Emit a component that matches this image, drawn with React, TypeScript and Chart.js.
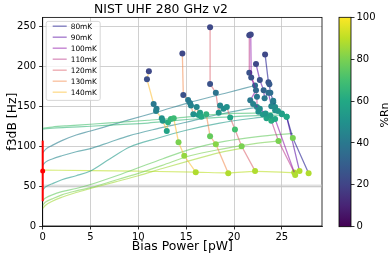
import React, { useEffect, useRef } from 'react';
import { Chart, registerables } from 'chart.js';

Chart.register(...registerables);

const FONT = 'DejaVu Sans';

// ---- axes ----
const X_MIN = 0;
const X_MAX = 29.2;
const X_STEP = 5;
const Y_MIN = 0;
const Y_MAX = 261.4;
const Y_STEP = 50;
const RN_MIN = 0;
const RN_MAX = 100;
const RN_STEP = 20;

const TITLE = 'NIST UHF 280 GHz v2';
const X_LABEL = 'Bias Power [pW]';
const Y_LABEL = 'f3dB [Hz]';
const CB_LABEL = '%Rn';

// ---- temperature sweeps: bias power [pW], f3dB [Hz], %Rn ----
const TEMP_LABELS = ['80mK', '90mK', '100mK', '110mK', '120mK', '130mK', '140mK'];

const P_80 = [23.25, 23.6, 23.7, 23.8, 24.1, 24.3, 24.6, 25.0, 25.5, 26.15, 27.8];
const F_80 = [215, 180, 177.5, 167, 157, 149, 144, 140, 137, 110.4, 66];
const RN_80 = [22, 25, 28, 36, 42, 48, 52, 56, 60, 80, 88];

const P_90 = [22.3, 22.7, 23.1, 23.2, 23.6, 23.9, 24.1, 24.3, 25.0, 25.5, 26.85];
const F_90 = [203, 183, 170, 160, 167, 150, 155, 145, 141, 137, 68.8];
const RN_90 = [22, 25, 32, 40, 36, 46, 44, 50, 56, 60, 88];

const P_100 = [21.75, 21.8, 22.3, 21.7, 22.0, 22.7, 23.3, 23.8, 24.3, 26.4];
const F_100 = [240, 186, 170, 157.5, 153, 147, 141, 138, 134, 64];
const RN_100 = [22, 25, 34, 40, 44, 48, 52, 56, 60, 88];

const P_110 = [21.6, 21.6, 22.2, 22.4, 22.4, 22.55, 23.0, 23.4, 23.9, 24.65, 26.3];
const F_110 = [239, 192, 176, 162, 149, 143, 140, 135, 132, 106.6, 67];
const RN_110 = [22, 25, 36, 40, 46, 50, 54, 58, 62, 80, 88];

const P_120 = [17.5, 17.5, 18.1, 18.4, 18.55, 18.9, 19.25, 19.6, 20.1, 20.8, 22.2];
const F_120 = [249, 178, 167, 142, 151, 147, 149, 136, 121, 100, 69];
const RN_120 = [22, 25, 38, 52, 46, 48, 50, 58, 70, 80, 88];

const P_130 = [14.6, 14.7, 15.2, 15.4, 15.5, 15.75, 16.1, 16.3, 16.45, 16.6, 17.1, 17.5, 18.1, 19.4];
const F_130 = [216, 164, 158, 154, 151, 140, 149, 139, 142, 137, 140, 112.5, 102.5, 66];
const RN_130 = [22, 25, 40, 42, 44, 50, 46, 54, 56, 60, 64, 76, 82, 88];

const P_140 = [11.1, 10.9, 11.6, 11.9, 11.85, 12.45, 12.55, 12.97, 13.1, 13.4, 13.7, 14.2, 14.8, 16.0];
const F_140 = [194, 184, 153, 147, 144, 135, 132, 119, 130, 134, 135, 105, 88, 67.5];
const RN_140 = [22, 24, 40, 42, 44, 50, 52, 58, 62, 65, 68, 80, 84, 88];

// ---- fit curves at fixed %Rn ----
const FIT_RN = [66, 70, 42, 46, 54, 76, 80, 86, 90];
const FIT1_P = [0, 1, 2.5, 5, 8, 11, 13.7, 17, 20, 23, 25.5];
const FIT1_F = [121.5, 122.5, 123.5, 125, 127, 129, 132, 135, 137, 138.5, 139];
const FIT2_P = [0, 1, 2.5, 5, 8, 11, 13.7, 17.1, 20.1, 24.5];
const FIT2_F = [122.5, 124, 125.5, 127.5, 130, 132.5, 135, 139, 141, 142];
const FIT3_P = [0, 0.3, 1, 2, 3.5, 5, 7, 9, 12, 15.4, 19, 22.2];
const FIT3_F = [91.6, 96, 101, 107, 114, 119, 126, 133, 143, 155, 166, 176];
const FIT4_P = [0, 0.3, 1, 2, 3.5, 5, 7, 9, 12, 15, 18.5, 22.4];
const FIT4_F = [76, 80, 84, 88, 93, 97, 105, 113, 122, 130, 140, 149];
const FIT5_P = [0, 0.3, 1, 2, 3.5, 5, 7, 9.1, 12, 15, 18.5, 22, 23.6];
const FIT5_F = [45, 49, 53, 58, 63, 69, 84, 99, 110, 120, 129, 135, 137];
const FIT6_P = [0, 0.3, 1, 2, 3.5, 5, 7.5, 10, 12.5, 15.4, 19, 22.5, 26.15];
const FIT6_F = [32, 35, 39, 43, 47, 52, 62, 73, 84, 96, 106, 112, 116];
const FIT7_P = [0, 0.3, 1, 2, 3.5, 5, 7.5, 10, 12.5, 15.4, 19, 22, 24.65];
const FIT7_F = [26, 30, 34, 39, 44, 48, 57, 66, 76, 88, 97, 103, 106.6];
const FIT8_P = [0, 0.3, 1, 2, 3.5, 5, 7.5, 10, 12.5, 15.4, 18.5, 21];
const FIT8_F = [22, 26, 31, 36, 42, 47, 55, 63, 72, 82, 92, 98];
const FIT9_P = [0, 5, 10, 16, 19.4, 22.2, 26.3];
const FIT9_F = [70, 69.5, 68.7, 67.5, 66.5, 68.5, 67];

// ---- reference marks ----
const ERR_P = [0, 0];
const ERR_F = [31, 107];
const REF_P = [0];
const REF_F = [69];
const HLINE_F = 50;

// ---- colour maps (styles) ----
const TEMP_COLORS = ['#0d0887', '#5202a1', '#8a0ba5', '#b93387', '#db5c68', '#f3894a', '#fcbc2d'];
const VIRIDIS = [
  [68, 1, 84], [72, 36, 117], [65, 68, 135], [53, 95, 141], [42, 120, 142], [33, 145, 140],
  [34, 168, 132], [68, 191, 112], [122, 209, 81], [189, 223, 38], [253, 231, 37],
];

function viridis(v: number, a = 1): string {
  const t = Math.min(1, Math.max(0, (v - RN_MIN) / (RN_MAX - RN_MIN))) * 10;
  const i = Math.min(9, Math.floor(t));
  const u = t - i;
  const c = VIRIDIS[i].map((x, k) => Math.round(x + (VIRIDIS[i + 1][k] - x) * u));
  return `rgba(${c[0]},${c[1]},${c[2]},${a})`;
}

function hexA(hex: string, a: number): string {
  const n = parseInt(hex.slice(1), 16);
  return `rgba(${(n >> 16) & 255},${(n >> 8) & 255},${n & 255},${a})`;
}

const zip = (xs: number[], ys: number[]) => xs.map((x, i) => ({ x, y: ys[i] }));

const TEMP_SERIES = [
  [P_80, F_80, RN_80], [P_90, F_90, RN_90], [P_100, F_100, RN_100], [P_110, F_110, RN_110],
  [P_120, F_120, RN_120], [P_130, F_130, RN_130], [P_140, F_140, RN_140],
];
const FIT_SERIES = [
  [FIT1_P, FIT1_F], [FIT2_P, FIT2_F], [FIT3_P, FIT3_F], [FIT4_P, FIT4_F], [FIT5_P, FIT5_F],
  [FIT6_P, FIT6_F], [FIT7_P, FIT7_F], [FIT8_P, FIT8_F], [FIT9_P, FIT9_F],
];

export default function App() {
  const mainRef = useRef<HTMLCanvasElement>(null);
  const cbRef = useRef<HTMLCanvasElement>(null);

  useEffect(() => {
    document.body.style.margin = '0';
    Chart.defaults.font.family = FONT;

    const tempSets = TEMP_SERIES.map(([p, f, rn], i) => ({
      label: TEMP_LABELS[i],
      data: zip(p, f),
      showLine: true,
      borderColor: hexA(TEMP_COLORS[i], 0.55),
      borderWidth: 1.3,
      pointRadius: 3,
      pointHoverRadius: 3,
      pointBorderWidth: 0,
      pointBackgroundColor: rn.map((v) => viridis(v)),
      pointBorderColor: rn.map((v) => viridis(v)),
      order: 1,
    }));

    const fitSets = FIT_SERIES.map(([p, f], i) => ({
      label: 'fit' + i,
      data: zip(p, f),
      showLine: true,
      borderColor: viridis(FIT_RN[i], 0.6),
      borderWidth: 1.2,
      pointRadius: 0,
      cubicInterpolationMode: 'monotone' as const,
      order: 3,
    }));

    const refSets = [
      {
        label: 'hline',
        data: [{ x: X_MIN, y: HLINE_F }, { x: X_MAX, y: HLINE_F }],
        showLine: true,
        borderColor: 'rgba(200,200,200,0.55)',
        borderWidth: 3,
        pointRadius: 0,
        order: 5,
      },
      {
        label: 'err',
        data: zip(ERR_P, ERR_F),
        showLine: true,
        borderColor: '#ff0000',
        borderWidth: 2,
        pointRadius: 0,
        clip: false as const,
        order: 0,
      },
      {
        label: 'ref',
        data: zip(REF_P, REF_F),
        showLine: false,
        pointRadius: 2.5,
        pointBorderWidth: 0,
        pointBackgroundColor: '#ff0000',
        clip: false as const,
        order: 0,
      },
    ];

    const framePlugin = {
      id: 'frame',
      beforeDatasetsDraw(chart: any) {
        const { ctx, chartArea: a } = chart;
        ctx.save();
        ctx.strokeStyle = '#000';
        ctx.lineWidth = 0.8;
        ctx.strokeRect(a.left, a.top, a.right - a.left, a.bottom - a.top);
        ctx.restore();
      },
      afterDatasetsDraw(chart: any) {
        const { ctx, chartArea: a } = chart;
        ctx.save();
        const bx = a.left + 3.5;
        const by = a.top + 4;
        const bw = 54;
        const bh = 79;
        ctx.beginPath();
        (ctx as any).roundRect(bx, by, bw, bh, 2);
        ctx.fillStyle = 'rgba(255,255,255,0.8)';
        ctx.fill();
        ctx.strokeStyle = '#cccccc';
        ctx.lineWidth = 0.8;
        ctx.stroke();
        ctx.font = `7.4px ${FONT}`;
        ctx.textBaseline = 'middle';
        ctx.textAlign = 'left';
        TEMP_LABELS.forEach((lab, i) => {
          const y = by + 4.8 + i * 11;
          ctx.strokeStyle = hexA(TEMP_COLORS[i], 0.55);
          ctx.lineWidth = 1.3;
          ctx.beginPath();
          ctx.moveTo(bx + 6.5, y);
          ctx.lineTo(bx + 20.5, y);
          ctx.stroke();
          ctx.fillStyle = '#000';
          ctx.fillText(lab, bx + 24.5, y + 0.5);
        });
        ctx.restore();
      },
    };

    const main = new Chart(mainRef.current!, {
      type: 'scatter',
      data: { datasets: [...refSets, ...tempSets, ...fitSets] as any },
      options: {
        animation: false,
        responsive: false,
        events: [],
        layout: { padding: { left: 0, right: 69, top: 0, bottom: 0 } },
        plugins: {
          legend: { display: false },
          tooltip: { enabled: false },
          title: {
            display: true,
            text: TITLE,
            color: '#000',
            font: { family: FONT, size: 12.4, weight: 'normal' as any },
            padding: { top: 2.5, bottom: 0 },
          },
        },
        scales: {
          x: {
            type: 'linear',
            min: X_MIN,
            max: X_MAX,
            ticks: {
              stepSize: X_STEP,
              includeBounds: false,
              color: '#000',
              font: { family: FONT, size: 10 },
              padding: 2,
              maxRotation: 0,
            },
            grid: { color: '#c4c4c4', lineWidth: 0.8, tickColor: '#000', tickLength: 3.5, tickWidth: 0.8 },
            border: { color: '#000', width: 0.8 },
            title: {
              display: true,
              text: X_LABEL,
              color: '#000',
              font: { family: FONT, size: 12.4 },
              padding: { top: 0, bottom: 4.5 },
            },
            afterFit: (s: any) => {
              s.height = 33;
            },
          },
          y: {
            type: 'linear',
            min: Y_MIN,
            max: Y_MAX,
            ticks: {
              stepSize: Y_STEP,
              includeBounds: false,
              color: '#000',
              font: { family: FONT, size: 10 },
              padding: 3,
            },
            grid: { color: '#c4c4c4', lineWidth: 0.8, tickColor: '#000', tickLength: 3.5, tickWidth: 0.8 },
            border: { color: '#000', width: 0.8 },
            title: {
              display: true,
              text: Y_LABEL,
              color: '#000',
              font: { family: FONT, size: 12.4 },
              padding: { top: 5, bottom: 0 },
            },
            afterFit: (s: any) => {
              s.width = 42.7;
            },
          },
        },
      },
      plugins: [framePlugin],
    });

    const cbPlugin = {
      id: 'cbar',
      beforeDatasetsDraw(chart: any) {
        const { ctx, chartArea: a } = chart;
        const g = ctx.createLinearGradient(0, a.bottom, 0, a.top);
        for (let i = 0; i <= 20; i++) {
          g.addColorStop(i / 20, viridis(RN_MIN + ((RN_MAX - RN_MIN) * i) / 20));
        }
        ctx.save();
        ctx.fillStyle = g;
        ctx.fillRect(a.left, a.top, a.right - a.left, a.bottom - a.top);
        ctx.strokeStyle = '#000';
        ctx.lineWidth = 0.8;
        ctx.strokeRect(a.left, a.top, a.right - a.left, a.bottom - a.top);
        ctx.translate(55, 115);
        ctx.rotate(-Math.PI / 2);
        ctx.font = `11px ${FONT}`;
        ctx.fillStyle = '#000';
        ctx.textAlign = 'center';
        ctx.textBaseline = 'middle';
        ctx.fillText(CB_LABEL, 0, 0);
        ctx.restore();
      },
    };

    const cb = new Chart(cbRef.current!, {
      type: 'scatter',
      data: { datasets: [{ data: [] }] },
      options: {
        animation: false,
        responsive: false,
        events: [],
        layout: { padding: { left: 9, right: 0, top: 17.3, bottom: 32.3 } },
        plugins: { legend: { display: false }, tooltip: { enabled: false } },
        scales: {
          x: { display: false },
          y: {
            position: 'right',
            min: RN_MIN,
            max: RN_MAX,
            ticks: { stepSize: RN_STEP, color: '#000', font: { family: FONT, size: 10 }, padding: 2 },
            grid: { drawOnChartArea: false, drawTicks: true, tickLength: 3.5, tickColor: '#000', tickWidth: 0.8 },
            border: { display: false },
            afterFit: (s: any) => {
              s.width = 40;
            },
          },
        },
      },
      plugins: [cbPlugin],
    });

    return () => {
      main.destroy();
      cb.destroy();
    };
  }, []);

  return (
    <div style={{ position: 'relative', width: 391, height: 259 }}>
      <canvas ref={mainRef} width={391} height={259} style={{ position: 'absolute', left: 0, top: 0, width: 391, height: 259 }} />
      <canvas ref={cbRef} width={61} height={259} style={{ position: 'absolute', left: 330, top: 0, width: 61, height: 259 }} />
    </div>
  );
}
